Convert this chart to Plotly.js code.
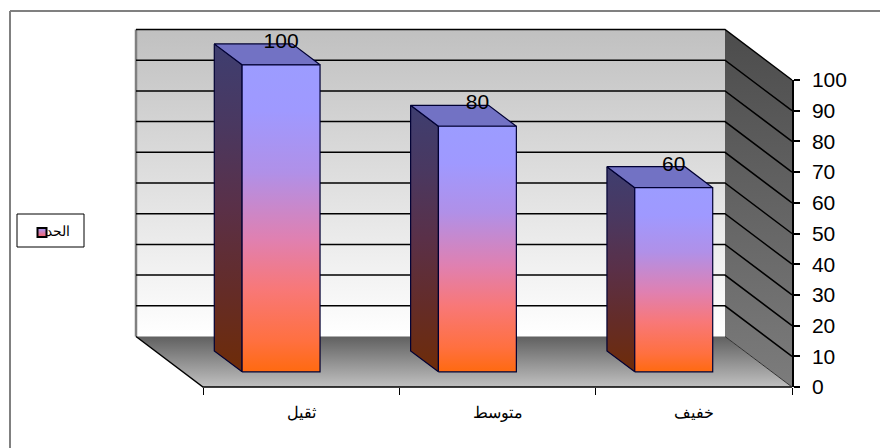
<!DOCTYPE html>
<html><head><meta charset="utf-8">
<script src="https://cdn.plot.ly/plotly-3.0.1.min.js"></script>
<style>html,body{margin:0;padding:0;background:#fff}#c{width:880px;height:448px}</style>
</head><body><div id="c"></div>
<script>
const categories = ['ثقيل','متوسط','خفيف'];
const values = [100,80,60];
const seriesName = 'الحد';
const valueTicks = [0,10,20,30,40,50,60,70,80,90,100];

const W=880,H=448,L=203,R=792,T=80,B=387;
const xPerPx=3/(R-L), yPerPx=100/(B-T);
// oblique projection: depth 0 = front of the floor, 1 = back wall
const DX = 67*xPerPx, DY = 50.5*yPerPx;
const px = (x,d)=>x-DX*d, py=(v,d)=>v+DY*d;
const poly = (pts)=>({x:pts.map(p=>px(p[0],p[2])), y:pts.map(p=>py(p[1],p[2]))});
const BAR = 0.397, D0 = 0.3, D1 = 0.715;
const barScale = [[0,'#FF6A10'],[0.1,'#FF7040'],[0.27,'#F87878'],[0.43,'#E080B0'],[0.65,'#B090E8'],[0.85,'#9F99FF'],[1,'#9C9CFF']];
const sideScale = [[0,'#6E2C08'],[0.25,'#642C28'],[0.5,'#5A3048'],[0.75,'#4A3860'],[1,'#3E3E70']];
const traces = [];
function face(pts, fill, stops, line){
  const p = poly(pts.concat([pts[0]]));
  const t = {x:p.x,y:p.y,mode:'lines',fill:'toself',hoverinfo:'skip',showlegend:false,
    line:line||{width:0,color:'rgba(0,0,0,0)'}};
  if(stops) t.fillgradient={type:'vertical',colorscale:stops};
  else t.fillcolor=fill;
  traces.push(t);
}
// walls and floor
face([[0,0,1],[3,0,1],[3,100,1],[0,100,1]],null,[[0,'#FFFFFF'],[1,'#C0C0C0']]);
face([[3,0,1],[3,0,0],[3,100,0],[3,100,1]],null,[[0,'#7C7C7C'],[1,'#4C4C4C']]);
face([[0,0,1],[3,0,1],[3,0,0],[0,0,0]],null,[[0,'#C0C0C0'],[1,'#606060']]);
// left wall edge
let p=poly([[0,0,1],[0,100,1]]);
traces.push({x:p.x,y:p.y,mode:'lines',line:{color:'#808080',width:2.5},hoverinfo:'skip',showlegend:false});
// gridlines: back wall and right side wall
const gx=[],gy=[];
valueTicks.filter(v=>v>0).forEach(v=>{
  const q=poly([[0,v,1],[3,v,1],[3,v,0]]);
  gx.push(...q.x,null); gy.push(...q.y,null);
});
traces.push({x:gx,y:gy,mode:'lines',line:{color:'#000000',width:1.5},hoverinfo:'skip',showlegend:false});
// floor edges
p=poly([[0,0,1],[0,0,0],[3,0,0]]);
traces.push({x:p.x,y:p.y,mode:'lines',line:{color:'#000000',width:1.5},hoverinfo:'skip',showlegend:false});
p=poly([[3,0,0],[3,0,1]]);
traces.push({x:p.x,y:p.y,mode:'lines',line:{color:'#303030',width:1},hoverinfo:'skip',showlegend:false});
// bars
const edge={color:'#000033',width:1.2};
values.forEach((v,i)=>{
  const a=i+0.5-BAR/2,b=i+0.5+BAR/2;
  face([[a,0,D0],[a,0,D1],[a,v,D1],[a,v,D0]],null,sideScale,edge);
  face([[a,v,D0],[a,v,D1],[b,v,D1],[b,v,D0]],'#7272C4',null,edge);
  face([[a,0,D0],[b,0,D0],[b,v,D0],[a,v,D0]],null,barScale,edge);
});
// value labels
traces.push({x:values.map((v,i)=>px(i+0.5,D0)),y:values.map(v=>py(v,D0)+7.2),text:values.map(String),mode:'text',
  textposition:'middle center',textfont:{family:'Liberation Sans',size:21,color:'#000'},hoverinfo:'skip',showlegend:false});
// legend key
const xFromPx=v=>(v-L)*xPerPx, yFromPx=v=>(B-v)*yPerPx;
traces.push({x:[xFromPx(42)],y:[yFromPx(232.5)],mode:'markers',name:seriesName,showlegend:false,hoverinfo:'skip',
  marker:{symbol:'square',size:9,color:'#A099FF',gradient:{type:'vertical',color:'#FF6060'},line:{color:'#000',width:2}}});
// dummy trace that carries the visible axes
traces.push({x:[null],y:[null],xaxis:'x2',yaxis:'y2',mode:'markers',showlegend:false,hoverinfo:'skip'});

const layout={
  width:W,height:H,margin:{l:0,r:0,t:0,b:0,pad:0},paper_bgcolor:'#fff',plot_bgcolor:'rgba(0,0,0,0)',
  font:{family:'Liberation Sans',color:'#000'},showlegend:false,
  xaxis:{domain:[0,1],range:[xFromPx(0),xFromPx(W)],visible:false,fixedrange:true},
  yaxis:{domain:[0,1],range:[yFromPx(H),yFromPx(0)],visible:false,fixedrange:true},
  xaxis2:{domain:[L/W,R/W],anchor:'y2',range:[0,3],tickmode:'array',tickvals:[0.5,1.5,2.5],ticktext:categories,ticks:'',showgrid:false,zeroline:false,showline:false,
    ticklabelstandoff:14,tickfont:{size:16,family:'Liberation Sans, Noto Sans'},
    minor:{tickmode:'array',tickvals:[0,1,2,3],ticks:'outside',ticklen:7,tickcolor:'#000',tickwidth:1,showgrid:false}},
  yaxis2:{domain:[(H-B)/H,(H-T)/H],anchor:'x2',range:[0,100],side:'right',tickmode:'array',tickvals:valueTicks,ticks:'outside',ticklen:6,tickcolor:'#000',tickwidth:1.5,
    ticklabelstandoff:8,showline:true,linecolor:'#000',linewidth:1.5,showgrid:false,zeroline:false,tickfont:{size:21,family:'Liberation Sans'}},
  annotations:[{xref:'paper',yref:'paper',x:71/W,y:1-231/H,xanchor:'right',yanchor:'middle',text:seriesName,showarrow:false,
    borderpad:0,font:{size:14,family:'Liberation Sans, Noto Sans'}}],
  shapes:[
    {type:'rect',layer:'below',xref:'paper',yref:'paper',x0:17/W,x1:84/W,y0:1-214/H,y1:1-247/H,fillcolor:'#fff',line:{color:'#000',width:1}},
    {type:'line',xref:'paper',yref:'paper',x0:10/W,x1:1,y0:1-11/H,y1:1-11/H,line:{color:'#808080',width:2}},
    {type:'line',xref:'paper',yref:'paper',x0:10/W,x1:10/W,y0:1-11/H,y1:0,line:{color:'#808080',width:2}}
  ]
};
Plotly.newPlot('c',traces,layout,{displayModeBar:false,responsive:false});
</script></body></html>
